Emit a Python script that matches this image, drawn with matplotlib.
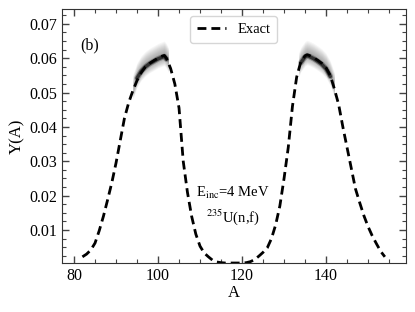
import matplotlib
matplotlib.use("Agg")
import matplotlib.pyplot as plt
import numpy as np
from matplotlib.ticker import MultipleLocator, FormatStrFormatter

plt.rcParams['font.family'] = ['Liberation Serif', 'DejaVu Serif']
plt.rcParams['mathtext.fontset'] = 'stix'

# Exact curve, left (light) fragment side
A_left = [82, 83, 84, 85, 86, 87, 88, 89, 90, 91, 92, 93, 94, 95, 96, 97, 98, 99, 100,
          101, 101.5, 102, 103, 104, 105, 106, 107, 108, 109, 110, 111, 112, 113, 114,
          115, 116, 117, 118]
Y_left = [0.0022, 0.0030, 0.0042, 0.0062, 0.0098, 0.0140, 0.0188, 0.0238, 0.0295, 0.0360,
          0.0425, 0.0470, 0.0505, 0.0535, 0.0558, 0.0575, 0.0585, 0.0593, 0.0600,
          0.0606, 0.0608, 0.0600, 0.0570, 0.0525, 0.0455, 0.0300, 0.0210, 0.0140, 0.0088,
          0.0053, 0.0033, 0.0022, 0.0012, 0.0007, 0.0005, 0.0004, 0.0004, 0.0004]
# Exact curve, right (heavy) fragment side
A_right = [119, 120, 121, 122, 123, 124, 125, 126, 127, 128, 129, 130, 131, 132, 133, 134,
           135, 135.5, 136, 137, 138, 139, 140, 141, 142, 143, 144, 145, 146, 147, 148,
           149, 150, 151, 152, 153, 154]
Y_right = [0.0004, 0.0004, 0.0005, 0.0008, 0.0014, 0.0024, 0.0035, 0.0048, 0.0075, 0.0115,
           0.0170, 0.0250, 0.0340, 0.0460, 0.0545, 0.0590, 0.0607, 0.0610, 0.0608, 0.0602,
           0.0594, 0.0585, 0.0572, 0.0550, 0.0510, 0.0465, 0.0400, 0.0340, 0.0280, 0.0220,
           0.0180, 0.0142, 0.0110, 0.0083, 0.0060, 0.0038, 0.0022]

# Sampled (gray cloud) ranges near the peaks
cloud_A_left = [94, 95, 96, 97, 98, 99, 100, 101, 101.5, 102, 102.5]
cloud_Y_left = [0.0510, 0.0545, 0.0565, 0.0578, 0.0587, 0.0594, 0.0601, 0.0606, 0.0608, 0.0600, 0.0588]
cloud_A_right = [133.5, 134, 135, 135.5, 136, 137, 138, 139, 140, 141, 142]
cloud_Y_right = [0.0575, 0.0590, 0.0607, 0.0610, 0.0608, 0.0602, 0.0594, 0.0585, 0.0572, 0.0550, 0.0515]

A = A_left + A_right
Y = Y_left + Y_right

fig = plt.figure(figsize=(4.15, 3.12), dpi=100)
ax = fig.add_axes([0.149, 0.157, 0.829, 0.814])

halfwidths = np.linspace(0.0042, 0.0004, 12)
for ca, cy in [(cloud_A_left, cloud_Y_left), (cloud_A_right, cloud_Y_right)]:
    ca = np.array(ca)
    cy = np.array(cy)
    for hw in halfwidths:
        ax.fill_between(ca, cy - hw * 0.7, cy + hw, color='black', alpha=0.035, lw=0)
    ax.plot(ca[1:-1], cy[1:-1] - 0.0003, color='black', lw=4.0, alpha=0.25, solid_capstyle='round')
    ax.plot(ca[1:-1], cy[1:-1] - 0.0003, color='black', lw=2.5, alpha=0.6, solid_capstyle='round')

ax.plot(A, Y, color='black', lw=2.0, linestyle=(0, (3.2, 1.8)), label='Exact')

ax.set_xlim(77.1, 159)
ax.set_ylim(0.0004, 0.0743)
ax.xaxis.set_major_locator(MultipleLocator(20))
ax.xaxis.set_minor_locator(MultipleLocator(5))
ax.yaxis.set_major_locator(MultipleLocator(0.01))
ax.yaxis.set_minor_locator(MultipleLocator(0.0025))
ax.yaxis.set_major_formatter(FormatStrFormatter('%.2f'))
ax.tick_params(which='both', direction='in', top=True, right=True, labelsize=11.5, colors='#444444', labelcolor='black')
ax.tick_params(which='major', length=5, width=1.0)
ax.tick_params(which='minor', length=3, width=0.8)
for s in ax.spines.values():
    s.set_color('#333333')

ax.set_xlabel('A', fontsize=12, labelpad=1)
ax.set_ylabel('Y(A)', fontsize=12, labelpad=3)

ax.text(83.8, 0.0636, '(b)', fontsize=11.5, ha='center', va='center')
ax.text(117.8, 0.0208, r'E$_{\mathrm{inc}}$=4 MeV', fontsize=10.5, ha='center', va='center')
ax.text(117.8, 0.0138, r'$^{235}$U(n,f)', fontsize=10.5, ha='center', va='center')

ax.legend(loc='upper center', fontsize=10.5, handlelength=2.0, borderpad=0.45,
          bbox_to_anchor=(0.5, 1.0))

fig.savefig('out.png', dpi=100)
